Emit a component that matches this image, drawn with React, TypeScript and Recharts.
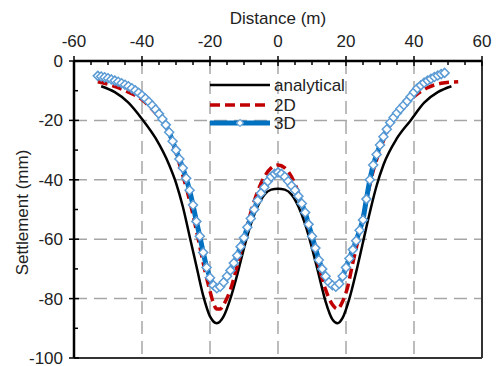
import {
  LineChart,
  Line,
  XAxis,
  YAxis,
  ReferenceLine,
  Legend,
  Label,
} from "recharts";

// analytical solution
const analyticalX = [
  -52, -48, -44, -40, -36, -32, -30, -28, -26, -24, -22, -20, -18, -16, -14, -12,
  -10, -8, -6, -4, -2, 0, 2, 4, 6, 8, 10, 12, 14, 16, 17.5, 19, 21, 23, 25, 27,
  29, 31, 35, 39, 43, 47, 51,
];
const analyticalY = [
  -8.5, -10.5, -14, -19.5, -26, -35, -41, -49, -59, -69, -79, -86, -88.3, -86,
  -80, -72, -63, -55, -49, -45, -43.3, -43, -43.3, -45, -49, -55, -63, -72, -81,
  -87, -88.3, -86.5, -80, -71, -61, -51, -42, -35, -26, -20, -14, -10.5, -8.5,
];

// 2D numerical model
const model2dX = [
  -53, -50, -47, -44, -40, -36, -34, -32, -30, -28, -26, -24, -22, -20, -19, -18,
  -17, -16, -14, -12, -10, -8, -6, -4, -2, 0, 2, 4, 6, 8, 10, 12, 14, 16, 17.5,
  19, 20.5, 22, 24, 26, 28, 30, 32, 34, 36, 40, 44, 48, 53,
];
const model2dY = [
  -7, -7.8, -9, -10.5, -13, -17.5, -20, -24.5, -31, -38.5, -47, -57, -68, -77.5,
  -81.5, -83.5, -83.5, -82, -77, -69, -60, -51, -44, -39, -36, -35, -36, -39,
  -44.5, -52, -60, -69, -77, -82, -83.5, -81, -76, -68, -58, -47, -37, -30, -24,
  -19.5, -16.5, -12, -9, -7.5, -7,
];

// 3D numerical model, one reading per metre
const model3dX = [
  -53, -52, -51, -50, -49, -48, -47, -46, -45, -44, -43, -42, -41, -40, -39, -38,
  -37, -36, -35, -34, -33, -32, -31, -30, -29, -28, -27, -26, -25, -24, -23, -22,
  -21, -20, -19, -18, -17, -16, -15, -14, -13, -12, -11, -10, -9, -8, -7, -6, -5,
  -4, -3, -2, -1, 0, 1, 2, 3, 4, 5, 6, 7, 8, 9, 10, 11, 12, 13, 14, 15, 16, 17,
  18, 19, 20, 21, 22, 23, 24, 25, 26, 27, 28, 29, 30, 31, 32, 33, 34, 35, 36, 37,
  38, 39, 40, 41, 42, 43, 44, 45, 46, 47, 48, 49,
];
const model3dY = [
  -5.0, -5.2, -5.5, -5.8, -6.2, -6.6, -7.0, -7.5, -8.0, -8.5, -9.2, -9.9, -10.7,
  -11.6, -12.6, -13.7, -15.0, -16.3, -17.8, -19.5, -21.5, -24.0, -27.0, -30.0,
  -33.0, -36.0, -39.5, -43.5, -48.5, -54.0, -59.0, -64.5, -69.5, -73.0, -75.5,
  -76.5, -76.0, -74.5, -72.5, -70.5, -68.0, -65.5, -62.5, -59.5, -56.0, -53.0,
  -50.0, -47.0, -44.5, -42.5, -40.5, -39.0, -38.0, -37.5, -38.0, -39.0, -40.5,
  -42.0, -43.5, -45.5, -48.0, -51.0, -55.0, -59.0, -63.0, -67.0, -70.0, -72.5,
  -74.5, -75.5, -76.0, -75.0, -72.5, -69.5, -66.5, -63.5, -60.5, -57.0, -53.5,
  -46.5, -40.0, -35.0, -31.5, -28.3, -25.5, -23.0, -20.7, -19.0, -17.5, -16.1,
  -14.8, -13.5, -12.0, -10.5, -9.2, -8.2, -7.3, -6.6, -6.0, -5.4, -4.9, -4.4,
  -4.0,
];

const xTicks = [
  -60, -55, -50, -45, -40, -35, -30, -25, -20, -15, -10, -5, 0, 5, 10, 15, 20, 25,
  30, 35, 40, 45, 50, 55, 60,
];
const yTicks = [-100, -90, -80, -70, -60, -50, -40, -30, -20, -10, 0];
const xGrid = [-40, -20, 0, 20, 40];
const yGrid = [-20, -40, -60, -80];

const toPoints = (xs: number[], ys: number[]) =>
  xs.map((x, i) => ({ x, y: ys[i] }));

const analytical = toPoints(analyticalX, analyticalY);
const model2d = toPoints(model2dX, model2dY);
const model3d = toPoints(model3dX, model3dY);

const FONT = "'Liberation Sans', Arial, sans-serif";
const GRID = "#a6a6a6";

// top axis: majors cross the axis line, minors point inward
const XTick = (props: any) => {
  const { x, y, payload } = props;
  const major = payload.value % 20 === 0;
  return (
    <g>
      <line
        x1={x}
        x2={x}
        y1={major ? y - 5 : y}
        y2={y + (major ? 5 : 4)}
        stroke="#000"
        strokeWidth={1.5}
      />
      {major && (
        <text x={x} y={y - 14} textAnchor="middle" fontSize={17} fontFamily={FONT} fill="#222">
          {payload.value}
        </text>
      )}
    </g>
  );
};

const YTick = (props: any) => {
  const { x, y, payload } = props;
  const major = payload.value % 20 === 0;
  return (
    <g>
      <line
        x1={major ? x - 5 : x}
        x2={x + (major ? 5 : 4)}
        y1={y}
        y2={y}
        stroke="#000"
        strokeWidth={1.5}
      />
      {major && (
        <text x={x - 11} y={y + 6} textAnchor="end" fontSize={17} fontFamily={FONT} fill="#222">
          {payload.value}
        </text>
      )}
    </g>
  );
};

const Diamond = (props: any) => {
  const { cx, cy, index } = props;
  if (cx == null || cy == null) return <g key={`d-${index}`} />;
  return (
    <polygon
      key={`d-${index}`}
      points={`${cx},${cy - 4.5} ${cx + 4.5},${cy} ${cx},${cy + 4.5} ${cx - 4.5},${cy}`}
      fill="#fff"
      stroke="#5b9bd5"
      strokeWidth={1.5}
    />
  );
};

const renderLegend = () => (
  <svg width={160} height={60} style={{ display: "block" }}>
    <line x1={2} x2={62} y1={10} y2={10} stroke="#000" strokeWidth={2.5} />
    <line x1={2} x2={62} y1={30} y2={30} stroke="#c00000" strokeWidth={3.5} strokeDasharray="10 5" />
    <line x1={2} x2={62} y1={48} y2={48} stroke="#0070c0" strokeWidth={5} />
    <polygon points="32,44.5 35.5,48 32,51.5 28.5,48" fill="#fff" stroke="#6fa8dc" strokeWidth={1.2} />
    <g fontSize={17} fontFamily={FONT} fill="#222">
      <text x={66} y={16}>analytical</text>
      <text x={66} y={36}>2D</text>
      <text x={66} y={54}>3D</text>
    </g>
  </svg>
);

export default function App() {
  return (
    <div style={{ position: "absolute", left: 0, top: 0, background: "#fff" }}>
      <LineChart
        width={497}
        height={366}
        margin={{ top: 21, right: 15, bottom: 8, left: 14 }}
      >
        <XAxis
          type="number"
          dataKey="x"
          orientation="top"
          domain={[-60, 60]}
          ticks={xTicks}
          interval={0}
          height={40}
          tickSize={0}
          tickMargin={0}
          tickLine={false}
          tick={<XTick />}
          axisLine={{ stroke: "#000", strokeWidth: 2.5 }}
        >
          <Label
            content={({ viewBox }: any) => (
              <text
                x={viewBox.x + viewBox.width / 2}
                y={24}
                textAnchor="middle"
                fontSize={17}
                fontFamily={FONT}
                fill="#222"
              >
                Distance (m)
              </text>
            )}
          />
        </XAxis>
        <YAxis
          type="number"
          domain={[-100, 0]}
          ticks={yTicks}
          interval={0}
          width={60}
          tickSize={0}
          tickMargin={0}
          tickLine={false}
          tick={<YTick />}
          axisLine={{ stroke: "#000", strokeWidth: 2.5 }}
        >
          <Label
            content={({ viewBox }: any) => {
              const cy = viewBox.y + viewBox.height / 2 + 3;
              return (
                <text
                  x={28}
                  y={cy}
                  transform={`rotate(-90, 28, ${cy})`}
                  textAnchor="middle"
                  fontSize={17}
                  fontFamily={FONT}
                  fill="#222"
                >
                  Settlement (mm)
                </text>
              );
            }}
          />
        </YAxis>

        {xGrid.map((v) => (
          <ReferenceLine key={`gx${v}`} x={v} stroke={GRID} strokeWidth={1.5} strokeDasharray="13 7" />
        ))}
        {yGrid.map((v) => (
          <ReferenceLine key={`gy${v}`} y={v} stroke={GRID} strokeWidth={1.5} strokeDasharray="13 7" />
        ))}
        <ReferenceLine x={60} stroke="#333" strokeWidth={2} />
        <ReferenceLine y={-100} stroke="#333" strokeWidth={2} />

        <Legend
          layout="vertical"
          align="center"
          verticalAlign="middle"
          content={renderLegend}
          wrapperStyle={{ position: "absolute", left: 208, top: 75, width: 160 }}
        />

        <Line
          data={analytical}
          dataKey="y"
          name="analytical"
          type="monotone"
          stroke="#000"
          strokeWidth={2.5}
          dot={false}
          activeDot={false}
          isAnimationActive={false}
        />
        <Line
          data={model2d}
          dataKey="y"
          name="2D"
          type="monotone"
          stroke="#c00000"
          strokeWidth={3.5}
          strokeDasharray="10 5"
          dot={false}
          activeDot={false}
          isAnimationActive={false}
        />
        <Line
          data={model3d}
          dataKey="y"
          name="3D"
          type="linear"
          stroke="#0070c0"
          strokeWidth={5}
          dot={Diamond}
          activeDot={false}
          isAnimationActive={false}
        />
      </LineChart>
    </div>
  );
}
